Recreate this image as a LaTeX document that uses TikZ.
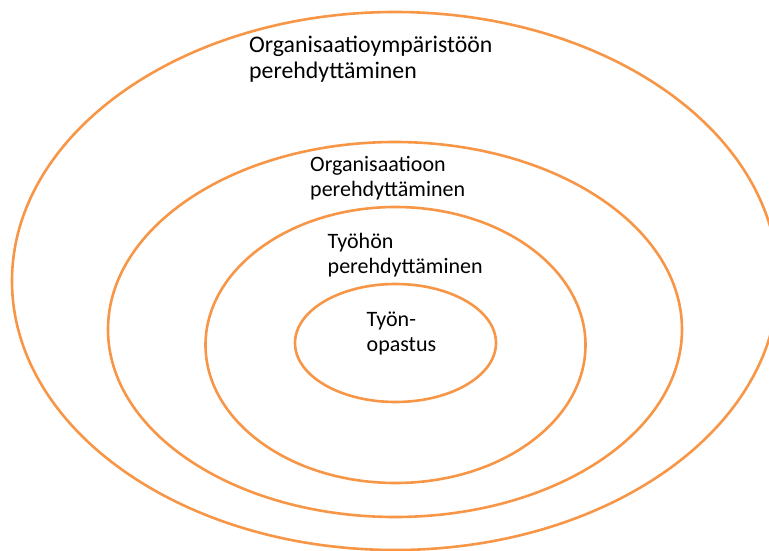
\documentclass[tikz,border=0pt]{standalone}
\usepackage{fontspec}
\setmainfont{Carlito}
\definecolor{ring}{HTML}{F79646}
\begin{document}
\begin{tikzpicture}[x=1pt,y=-1pt,
  ringline/.style={draw=ring,line width=2.6pt},
  lbl/.style={anchor=base west,align=left,inner sep=0pt,font=\fontsize{22}{25}\selectfont},
  biglbl/.style={lbl,font=\fontsize{23.8}{26}\selectfont}]
\useasboundingbox (0,0) rectangle (769,551);
\begin{scope}
\clip (0,0) rectangle (769,551);
\draw[ringline] (395,281) ellipse [x radius=383, y radius=269];
\end{scope}
\draw[ringline] (395,329.5) ellipse [x radius=287, y radius=187.5];
\draw[ringline] (395.5,345) ellipse [x radius=190, y radius=138];
\draw[ringline] (395.5,343) ellipse [x radius=100.5, y radius=59];
\node[biglbl] (l1) at (249,78) {Organisaatioympäristöön\\perehdyttäminen};
\node[lbl] (l2) at (310,196.5) {Organisaatioon\\perehdyttäminen};
\node[lbl] (l3) at (327.5,273) {Työhön\\perehdyttäminen};
\node[lbl] (l4) at (366.5,351) {Työn-\\opastus};
\end{tikzpicture}
\end{document}
